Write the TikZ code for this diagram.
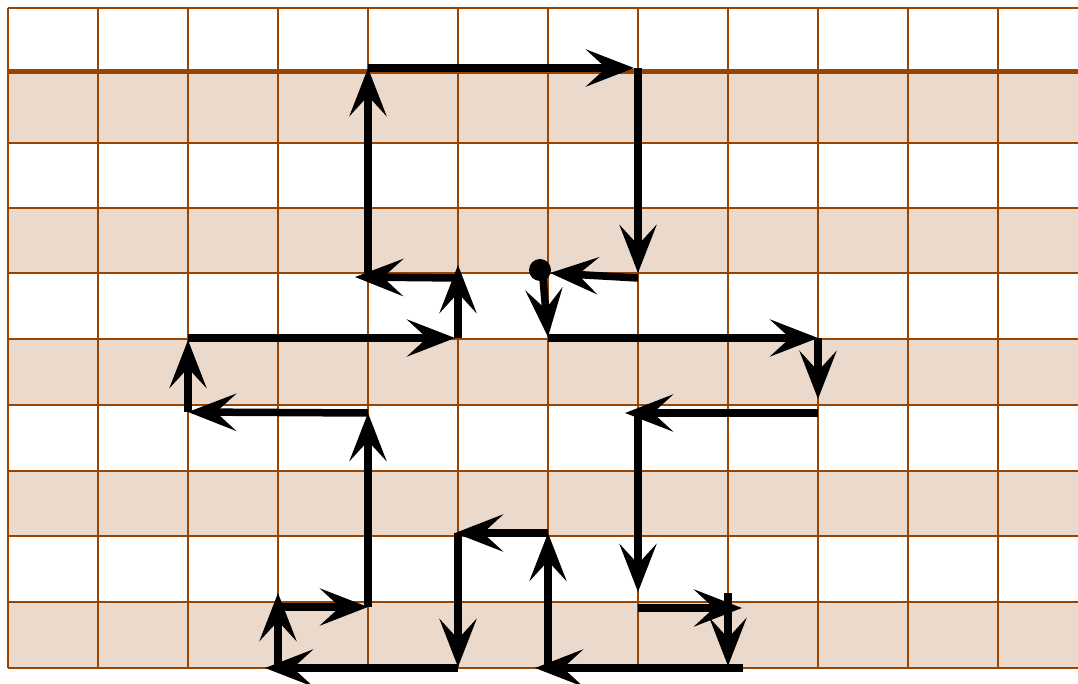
\documentclass[tikz,border=0pt]{standalone}
\usetikzlibrary{arrows.meta}
\definecolor{gridc}{RGB}{153,68,0}
\begin{document}
\begin{tikzpicture}[x=1pt,y=-1pt,
  gridline/.style={gridc, line width=2.2pt},
  heavyline/.style={gridc, line width=5pt},
  band/.style={fill=gridc!20},
  arr/.style={line width=7.5pt, -{Stealth[length=48pt,width=37pt,inset=20pt]}},
  startdot/.style={circle, fill=black, inner sep=0pt, minimum size=22pt}]
\useasboundingbox (0,0) rectangle (1078,684);
% shaded rows
\foreach \a/\b in {72/143,208/273,339/405,471/536,602/668}
  \fill[band] (8,\a) rectangle (1078,\b);
% grid
\foreach \x in {8,98,...,998}
  \draw[gridline] (\x,8) -- (\x,668);
\foreach \y in {8,143,208,273,339,405,471,536,602,668}
  \draw[gridline] (8,\y) -- (1078,\y);
\draw[heavyline] (8,72) -- (1078,72);
% start dot
\node[startdot] (dot) at (540,270) {};
% corner coordinates
\coordinate (s1) at (543,278);  \coordinate (e1) at (548,337);
\coordinate (s2) at (548,338);  \coordinate (e2) at (818,338);
\coordinate (s3) at (818,338);  \coordinate (e3) at (818,399);
\coordinate (s4) at (818,413);  \coordinate (e4) at (625,413);
\coordinate (s5) at (638,413);  \coordinate (e5) at (638,592);
\coordinate (s6) at (638,608);  \coordinate (e6) at (742,608);
\coordinate (s7) at (728,593);  \coordinate (e7) at (728,666);
\coordinate (s8) at (743,668);  \coordinate (e8) at (535,668);
\coordinate (s9) at (548,668);  \coordinate (e9) at (548,533);
\coordinate (s10) at (548,533); \coordinate (e10) at (455,533);
\coordinate (s11) at (458,533); \coordinate (e11) at (458,667);
\coordinate (s12) at (458,668); \coordinate (e12) at (265,668);
\coordinate (s13) at (278,668); \coordinate (e13) at (278,593);
\coordinate (s14) at (278,607); \coordinate (e14) at (368,607);
\coordinate (s15) at (368,607); \coordinate (e15) at (368,413);
\coordinate (s16) at (368,413); \coordinate (e16) at (188,412);
\coordinate (s17) at (188,412); \coordinate (e17) at (188,340);
\coordinate (s18) at (188,338); \coordinate (e18) at (455,338);
\coordinate (s19) at (458,338); \coordinate (e19) at (458,265);
\coordinate (s20) at (458,278); \coordinate (e20) at (355,277);
\coordinate (s21) at (368,273); \coordinate (e21) at (368,68);
\coordinate (s22) at (368,68);  \coordinate (e22) at (634,68);
\coordinate (s23) at (638,68);  \coordinate (e23) at (638,273);
\coordinate (s24) at (638,278); \coordinate (e24) at (550,273);
% arrows
\foreach \i in {1,...,24}
  \draw[arr] (s\i) -- (e\i);
\end{tikzpicture}
\end{document}
